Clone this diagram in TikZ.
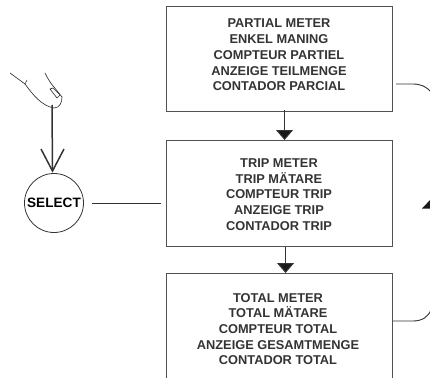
\documentclass[tikz,border=0pt]{standalone}
\usepackage{fontspec}
\setmainfont{Liberation Sans}
\usetikzlibrary{arrows.meta}
\definecolor{ink}{gray}{0.2}
\tikzset{
  mbox/.style={draw=ink!85,line width=1.1pt,minimum width=226pt,inner sep=0pt,anchor=north west},
  mtext/.style={text=ink,align=center,font=\fontsize{12.8}{15.7}\selectfont\bfseries},
  conn/.style={draw=ink,line width=1pt},
  fall/.style={draw=ink,line width=1.1pt,-{Triangle[length=10pt,width=17pt,fill=ink!50!black]}},
  fing/.style={draw=ink,line width=0.65pt,line cap=round,line join=round}
}
\begin{document}
\begin{tikzpicture}[x=1pt,y=-1pt]
\useasboundingbox[clip] (0,0) rectangle (430,377);
\node[mbox,minimum height=105pt] (partial) at (166,6) {};
\node[mtext] (ptext) at (279,55) {PARTIAL METER\\ENKEL MANING\\COMPTEUR PARTIEL\\ANZEIGE TEILMENGE\\CONTADOR PARCIAL};
\node[mbox,minimum height=106pt] (trip) at (166,140) {};
\node[mtext] (ttext) at (279,194.5) {TRIP METER\\TRIP MÄTARE\\COMPTEUR TRIP\\ANZEIGE TRIP\\CONTADOR TRIP};
\node[mbox,minimum height=125pt] (total) at (166,273) {};
\node[mtext] (ototext) at (278,329) {TOTAL METER\\TOTAL MÄTARE\\COMPTEUR TOTAL\\ANZEIGE GESAMTMENGE\\CONTADOR TOTAL};
\draw[fall] ([xshift=5pt,yshift=2pt]partial.south) -- ([xshift=5pt]trip.north);
\draw[fall] ([xshift=6pt]trip.south) -- ([xshift=6pt]total.north);
\node[circle,draw=ink,line width=0.8pt,minimum size=59pt,inner sep=0pt,text=black,font=\fontsize{13.6}{15}\selectfont\bfseries] (select) at (54,203) {SELECT};
\coordinate (tip) at (52,105);
\coordinate (vtip) at (52.5,171);
\draw[conn,line width=1.5pt] (tip) -- (vtip);
\draw[conn,line width=1.5pt,line join=miter] (41,149) -- (vtip) -- (64,149);
\coordinate (tripin) at (161,203);
\draw[conn,line width=0.8pt] (92,203) -- (tripin);
% finger
\draw[fing] (10,73) -- (25,84) (25,84) -- (27,80);
\draw[fing] (25,84) .. controls (33,95) and (42,106) .. (54,108) .. controls (60,108) and (62,102) .. (62,97);
\draw[fing] (45,73) .. controls (48,79) and (51,84) .. (54,87) -- (62,97);
\draw[fing] (50,89) -- (53,88) -- (60,95) -- (57,98) -- cycle;
% returns
\coordinate (r1) at (396,84);
\coordinate (r1e) at (431,92);
\draw[conn,line width=0.9pt] (r1) -- (413,84) .. controls (421,84) and (427,87) .. (r1e);
\coordinate (r3e) at (431,310);
\draw[conn,line width=0.9pt] (total.east |- 0,321) -- (413,321) .. controls (422,321) and (428,317) .. (r3e);
\fill[ink!50!black] (422,208.5) -- (431,199) -- (431,208.5) -- cycle;
\end{tikzpicture}
\end{document}
